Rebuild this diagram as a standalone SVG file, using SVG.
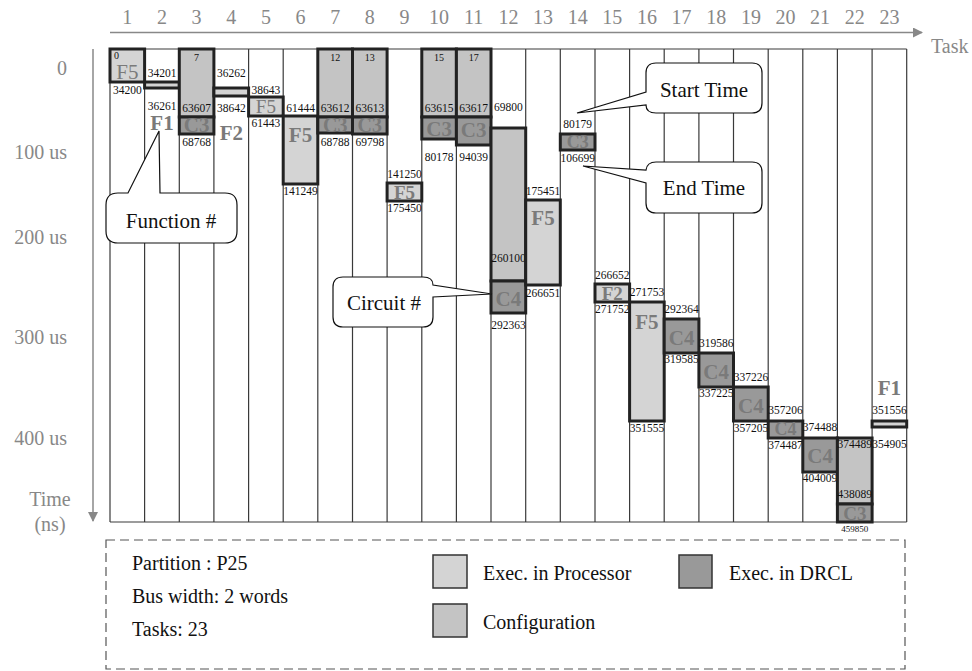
<svg xmlns="http://www.w3.org/2000/svg" width="972" height="671" viewBox="0 0 972 671" font-family="'Liberation Serif', 'Times New Roman', 'DejaVu Serif', serif">
<style>
text{font-family:'Liberation Serif','Times New Roman','DejaVu Serif',serif}
.ax{fill:#888;font-size:20px}
.axc{fill:#888;font-size:20px;text-anchor:middle}
.grid line{stroke:#3a3a3a;stroke-width:1.2}
.p{fill:#d4d4d4;stroke:#222;stroke-width:3}
.c{fill:#c4c4c4;stroke:#222;stroke-width:3}
.d{fill:#999;stroke:#222;stroke-width:3}
.n{font-size:11.5px;fill:#111;text-anchor:middle}
.s{font-size:10px;fill:#111;text-anchor:middle}
.l{font-size:21px;font-weight:bold;fill:#7a7a7a;text-anchor:middle}
.lr{font-size:21px;fill:#7a7a7a;text-anchor:middle}
.co{fill:#fff;stroke:#111;stroke-width:1.2}
.ct{font-size:21px;fill:#111;text-anchor:middle}
.lg{font-size:20px;fill:#111}
.lgs{stroke:#333;stroke-width:1.5}
</style>
<defs>
<marker id="ah" markerWidth="10" markerHeight="10" refX="9" refY="5" orient="auto" markerUnits="userSpaceOnUse"><path d="M0,0 L10,5 L0,10 Z" fill="#888"/></marker>
</defs>
<g id="axes">
<line x1="110" y1="32.5" x2="922" y2="32.5" stroke="#888" stroke-width="1.5" marker-end="url(#ah)"/>
<line x1="93" y1="49" x2="93" y2="521" stroke="#888" stroke-width="1.5" marker-end="url(#ah)"/>
<text class="ax" x="931" y="53">Task</text>
<g class="axc">
<text x="127.3" y="24">1</text><text x="162" y="24">2</text><text x="196.6" y="24">3</text><text x="231.3" y="24">4</text><text x="265.9" y="24">5</text><text x="300.5" y="24">6</text><text x="335.2" y="24">7</text><text x="369.8" y="24">8</text><text x="404.5" y="24">9</text><text x="439.1" y="24">10</text><text x="473.7" y="24">11</text><text x="508.4" y="24">12</text><text x="543" y="24">13</text><text x="577.7" y="24">14</text><text x="612.3" y="24">15</text><text x="646.9" y="24">16</text><text x="681.6" y="24">17</text><text x="716.2" y="24">18</text><text x="750.9" y="24">19</text><text x="785.5" y="24">20</text><text x="820.1" y="24">21</text><text x="854.8" y="24">22</text><text x="889.4" y="24">23</text>
</g>
<g class="ax" text-anchor="end">
<text x="67" y="75">0</text><text x="67" y="159">100 us</text><text x="67" y="244">200 us</text><text x="67" y="344">300 us</text><text x="67" y="445">400 us</text>
</g>
<text class="axc" x="50" y="506">Time</text>
<text class="axc" x="50" y="531">(ns)</text>
</g>
<g id="grid" class="grid">
<line x1="110" y1="49" x2="906.7" y2="49"/><line x1="110" y1="522" x2="906.7" y2="522"/>
<line x1="110" y1="49" x2="110" y2="522"/><line x1="144.6" y1="49" x2="144.6" y2="522"/><line x1="179.3" y1="49" x2="179.3" y2="522"/><line x1="213.9" y1="49" x2="213.9" y2="522"/><line x1="248.6" y1="49" x2="248.6" y2="522"/><line x1="283.2" y1="49" x2="283.2" y2="522"/><line x1="317.8" y1="49" x2="317.8" y2="522"/><line x1="352.5" y1="49" x2="352.5" y2="522"/><line x1="387.1" y1="49" x2="387.1" y2="522"/><line x1="421.8" y1="49" x2="421.8" y2="522"/><line x1="456.4" y1="49" x2="456.4" y2="522"/><line x1="491" y1="49" x2="491" y2="522"/><line x1="525.7" y1="49" x2="525.7" y2="522"/><line x1="560.3" y1="49" x2="560.3" y2="522"/><line x1="595" y1="49" x2="595" y2="522"/><line x1="629.6" y1="49" x2="629.6" y2="522"/><line x1="664.2" y1="49" x2="664.2" y2="522"/><line x1="698.9" y1="49" x2="698.9" y2="522"/><line x1="733.5" y1="49" x2="733.5" y2="522"/><line x1="768.2" y1="49" x2="768.2" y2="522"/><line x1="802.8" y1="49" x2="802.8" y2="522"/><line x1="837.4" y1="49" x2="837.4" y2="522"/><line x1="872.1" y1="49" x2="872.1" y2="522"/><line x1="906.7" y1="49" x2="906.7" y2="522"/>
</g>
<g id="task1"><rect class="p" x="110" y="49" width="34.6" height="33"/><text class="s" x="114" y="59" style="text-anchor:start">0</text><text class="lr" x="127.3" y="79">F5</text><text class="n" x="127.3" y="94">34200</text></g>
<g id="task2"><text class="n" x="162" y="77">34201</text><rect class="p" x="144.6" y="82" width="34.7" height="6"/><text class="n" x="162" y="110">36261</text><text class="l" x="162" y="130">F1</text></g>
<g id="task3"><rect class="c" x="179.3" y="49" width="34.6" height="68"/><text class="s" x="196.6" y="61">7</text><text class="n" x="196.6" y="112">63607</text><rect class="d" x="179.3" y="117" width="34.6" height="17"/><text class="l" x="196.6" y="132">C3</text><text class="n" x="196.6" y="146">68768</text></g>
<g id="task4"><text class="n" x="231.3" y="77">36262</text><rect class="p" x="213.9" y="88" width="34.7" height="8"/><text class="n" x="231.3" y="112">38642</text><text class="l" x="231.3" y="140">F2</text></g>
<g id="task5"><text class="n" x="265.9" y="94">38643</text><rect class="p" x="248.6" y="97" width="34.6" height="19"/><text class="lr" x="265.9" y="113" style="font-size:19px">F5</text><text class="n" x="265.9" y="127">61443</text></g>
<g id="task6"><text class="n" x="300.5" y="112">61444</text><rect class="p" x="283.2" y="116" width="34.6" height="68"/><text class="l" x="300.5" y="142">F5</text><text class="n" x="300.5" y="195">141249</text></g>
<g id="task7"><rect class="c" x="317.8" y="49" width="34.7" height="68"/><text class="s" x="335.2" y="61">12</text><text class="n" x="335.2" y="112">63612</text><rect class="d" x="317.8" y="117" width="34.7" height="16"/><text class="l" x="335.2" y="132" style="font-size:20px">C3</text><text class="n" x="335.2" y="146">68788</text></g>
<g id="task8"><rect class="c" x="352.5" y="49" width="34.6" height="68"/><text class="s" x="369.8" y="61">13</text><text class="n" x="369.8" y="112">63613</text><rect class="d" x="352.5" y="117" width="34.6" height="17"/><text class="l" x="369.8" y="132" style="font-size:20px">C3</text><text class="n" x="369.8" y="146">69798</text></g>
<g id="task9"><text class="n" x="404.5" y="178">141250</text><rect class="p" x="387.1" y="183" width="34.7" height="18"/><text class="l" x="404.5" y="199" style="font-size:19px">F5</text><text class="n" x="404.5" y="212">175450</text></g>
<g id="task10"><rect class="c" x="421.8" y="49" width="34.6" height="68"/><text class="s" x="439.1" y="61">15</text><text class="n" x="439.1" y="112">63615</text><rect class="d" x="421.8" y="117" width="34.6" height="22"/><text class="l" x="439.1" y="136">C3</text><text class="n" x="439.1" y="161">80178</text></g>
<g id="task11"><rect class="c" x="456.4" y="49" width="34.6" height="68"/><text class="s" x="473.7" y="61">17</text><text class="n" x="473.7" y="112">63617</text><rect class="d" x="456.4" y="117" width="34.6" height="28"/><text class="l" x="473.7" y="137">C3</text><text class="n" x="473.7" y="161">94039</text></g>
<g id="task12"><text class="n" x="508.4" y="111">69800</text><rect class="c" x="491" y="128" width="34.7" height="153"/><text class="n" x="508.4" y="262">260100</text><rect class="d" x="491" y="281" width="34.7" height="32"/><text class="l" x="508.4" y="306">C4</text><text class="n" x="508.4" y="329">292363</text></g>
<g id="task13"><text class="n" x="543" y="195">175451</text><rect class="p" x="525.7" y="200" width="34.6" height="85"/><text class="l" x="543" y="225">F5</text><text class="n" x="543" y="297">266651</text></g>
<g id="task14"><text class="n" x="577.7" y="128">80179</text><rect class="d" x="560.3" y="134" width="34.7" height="16"/><text class="l" x="577.7" y="148" style="font-size:18px">C3</text><text class="n" x="577.7" y="162">106699</text></g>
<g id="task15"><text class="n" x="612.3" y="279">266652</text><rect class="p" x="595" y="284" width="34.6" height="18"/><text class="l" x="612.3" y="300" style="font-size:19px">F2</text><text class="n" x="612.3" y="313">271752</text></g>
<g id="task16"><text class="n" x="646.9" y="296">271753</text><rect class="p" x="629.6" y="302" width="34.6" height="119"/><text class="l" x="646.9" y="329">F5</text><text class="n" x="646.9" y="432">351555</text></g>
<g id="task17"><text class="n" x="681.6" y="313">292364</text><rect class="d" x="664.2" y="319" width="34.7" height="34"/><text class="l" x="681.6" y="345">C4</text><text class="n" x="681.6" y="363">319585</text></g>
<g id="task18"><text class="n" x="716.2" y="347">319586</text><rect class="d" x="698.9" y="353" width="34.6" height="34"/><text class="l" x="716.2" y="379">C4</text><text class="n" x="716.2" y="397">337225</text></g>
<g id="task19"><text class="n" x="750.9" y="381">337226</text><rect class="d" x="733.5" y="387" width="34.7" height="34"/><text class="l" x="750.9" y="413">C4</text><text class="n" x="750.9" y="432">357205</text></g>
<g id="task20"><text class="n" x="785.5" y="414">357206</text><rect class="d" x="768.2" y="421" width="34.6" height="17"/><text class="l" x="785.5" y="435" style="font-size:18px">C4</text><text class="n" x="785.5" y="449">374487</text></g>
<g id="task21"><text class="n" x="820.1" y="431">374488</text><rect class="d" x="802.8" y="438" width="34.6" height="34"/><text class="l" x="820.1" y="463">C4</text><text class="n" x="820.1" y="482">404009</text></g>
<g id="task22"><rect class="c" x="837.4" y="438" width="34.7" height="66"/><text class="n" x="854.8" y="448">374489</text><text class="n" x="854.8" y="498">438089</text><rect class="d" x="837.4" y="504" width="34.7" height="18"/><text class="l" x="854.8" y="520" style="font-size:19px">C3</text><text class="s" x="854.8" y="532" style="font-size:9px">459850</text></g>
<g id="task23"><text class="l" x="889.4" y="395">F1</text><text class="n" x="889.4" y="414">351556</text><rect class="p" x="872.1" y="421" width="34.6" height="6"/><text class="n" x="889.4" y="448">354905</text></g>
<g id="callout-start"><path class="co" d="M656,63 H752 Q762,63 762,73 V103 Q762,113 752,113 H656 Q646,113 646,105 L577,113 L646,92 V73 Q646,63 656,63 Z"/><text class="ct" x="704" y="97">Start Time</text></g>
<g id="callout-end"><path class="co" d="M656,162 H752 Q762,162 762,172 V203 Q762,213 752,213 H656 Q646,213 646,203 V183 L583,166 L646,170 Q647,162 656,162 Z"/><text class="ct" x="704" y="195">End Time</text></g>
<g id="callout-function"><path class="co" d="M118,193 H128 L159,131 L160,193 H225 Q237,193 237,205 V231 Q237,243 225,243 H118 Q106,243 106,231 V205 Q106,193 118,193 Z"/><text class="ct" x="171" y="228">Function #</text></g>
<g id="callout-circuit"><path class="co" d="M343,277 H423 Q433,277 433,285 L492,294 L433,297 V317 Q433,327 423,327 H343 Q333,327 333,317 V287 Q333,277 343,277 Z"/><text class="ct" x="384" y="310">Circuit #</text></g>
<g id="legend">
<rect x="106" y="540" width="799" height="129" fill="none" stroke="#555" stroke-width="1.2" stroke-dasharray="9,5"/>
<text class="lg" x="132" y="570">Partition : P25</text>
<text class="lg" x="132" y="603">Bus width: 2 words</text>
<text class="lg" x="132" y="636">Tasks: 23</text>
<rect class="lgs" x="433" y="555" width="34" height="33" fill="#d4d4d4"/>
<text class="lg" x="483" y="580">Exec. in Processor</text>
<rect class="lgs" x="679" y="555" width="33" height="33" fill="#999"/>
<text class="lg" x="729" y="580">Exec. in DRCL</text>
<rect class="lgs" x="433" y="604" width="34" height="33" fill="#c4c4c4"/>
<text class="lg" x="483" y="629">Configuration</text>
</g>
</svg>
